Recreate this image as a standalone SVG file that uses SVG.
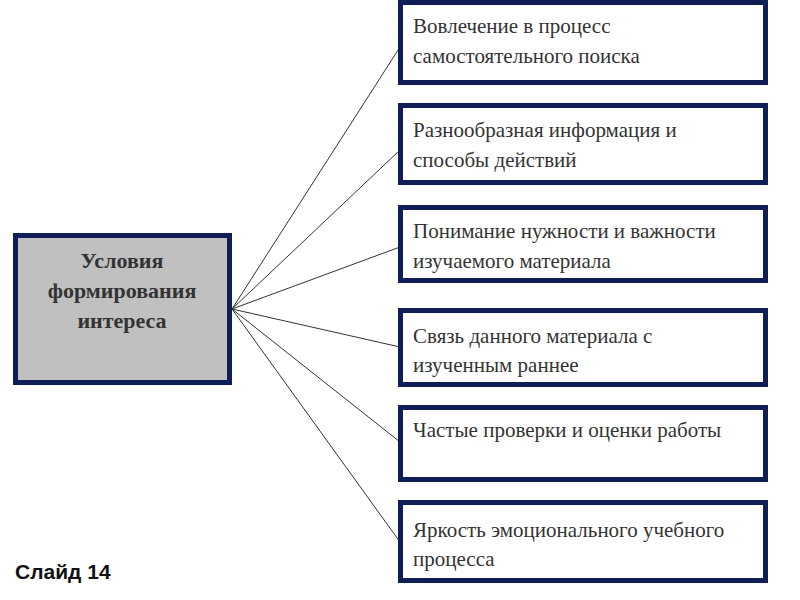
<svg xmlns="http://www.w3.org/2000/svg" width="800" height="600" viewBox="0 0 800 600">
<style>
.box{fill:#ffffff;stroke:#0f1f55;stroke-width:5}
.hub{fill:#c0c0c0;stroke:#0f1f55;stroke-width:5}
.t{font-family:"Liberation Serif","DejaVu Serif",serif;font-size:21px;fill:#333333}
.h{font-family:"Liberation Serif","DejaVu Serif",serif;font-size:22px;font-weight:bold;fill:#333333;text-anchor:middle}
.c line{stroke:#333333;stroke-width:1}
.s{font-family:"Liberation Sans",Arial,sans-serif;font-size:21px;font-weight:bold;fill:#111111}
</style>
<rect width="800" height="600" fill="#ffffff"/>
<g class="c" id="connectors">
<line x1="232" y1="309" x2="400" y2="47"/>
<line x1="232" y1="309" x2="400" y2="150"/>
<line x1="232" y1="309" x2="400" y2="247"/>
<line x1="232" y1="309" x2="400" y2="347"/>
<line x1="232" y1="309" x2="400" y2="442"/>
<line x1="232" y1="309" x2="400" y2="542"/>
</g>
<g id="hub">
<rect class="hub" x="15.5" y="235.5" width="214" height="147"/>
<text class="h" x="122" y="268">Условия</text>
<text class="h" x="122" y="298">формирования</text>
<text class="h" x="122" y="328">интереса</text>
</g>
<g id="n1">
<rect class="box" x="400.5" y="2.5" width="365" height="80"/>
<text class="t" x="413" y="33">Вовлечение в процесс</text>
<text class="t" x="413" y="63">самостоятельного поиска</text>
</g>
<g id="n2">
<rect class="box" x="400.5" y="105.5" width="365" height="77"/>
<text class="t" x="413" y="137">Разнообразная информация и</text>
<text class="t" x="413" y="167">способы действий</text>
</g>
<g id="n3">
<rect class="box" x="400.5" y="207.5" width="365" height="73"/>
<text class="t" x="413" y="238">Понимание нужности и важности</text>
<text class="t" x="413" y="268">изучаемого материала</text>
</g>
<g id="n4">
<rect class="box" x="400.5" y="310.5" width="365" height="74"/>
<text class="t" x="413" y="343">Связь данного материала с</text>
<text class="t" x="413" y="372">изученным раннее</text>
</g>
<g id="n5">
<rect class="box" x="400.5" y="407.5" width="365" height="72"/>
<text class="t" x="413" y="437">Частые проверки и оценки работы</text>
</g>
<g id="n6">
<rect class="box" x="400.5" y="502.5" width="365" height="78"/>
<text class="t" x="413" y="537">Яркость эмоционального учебного</text>
<text class="t" x="413" y="566">процесса</text>
</g>
<text class="s" x="15" y="579">Слайд 14</text>
</svg>
